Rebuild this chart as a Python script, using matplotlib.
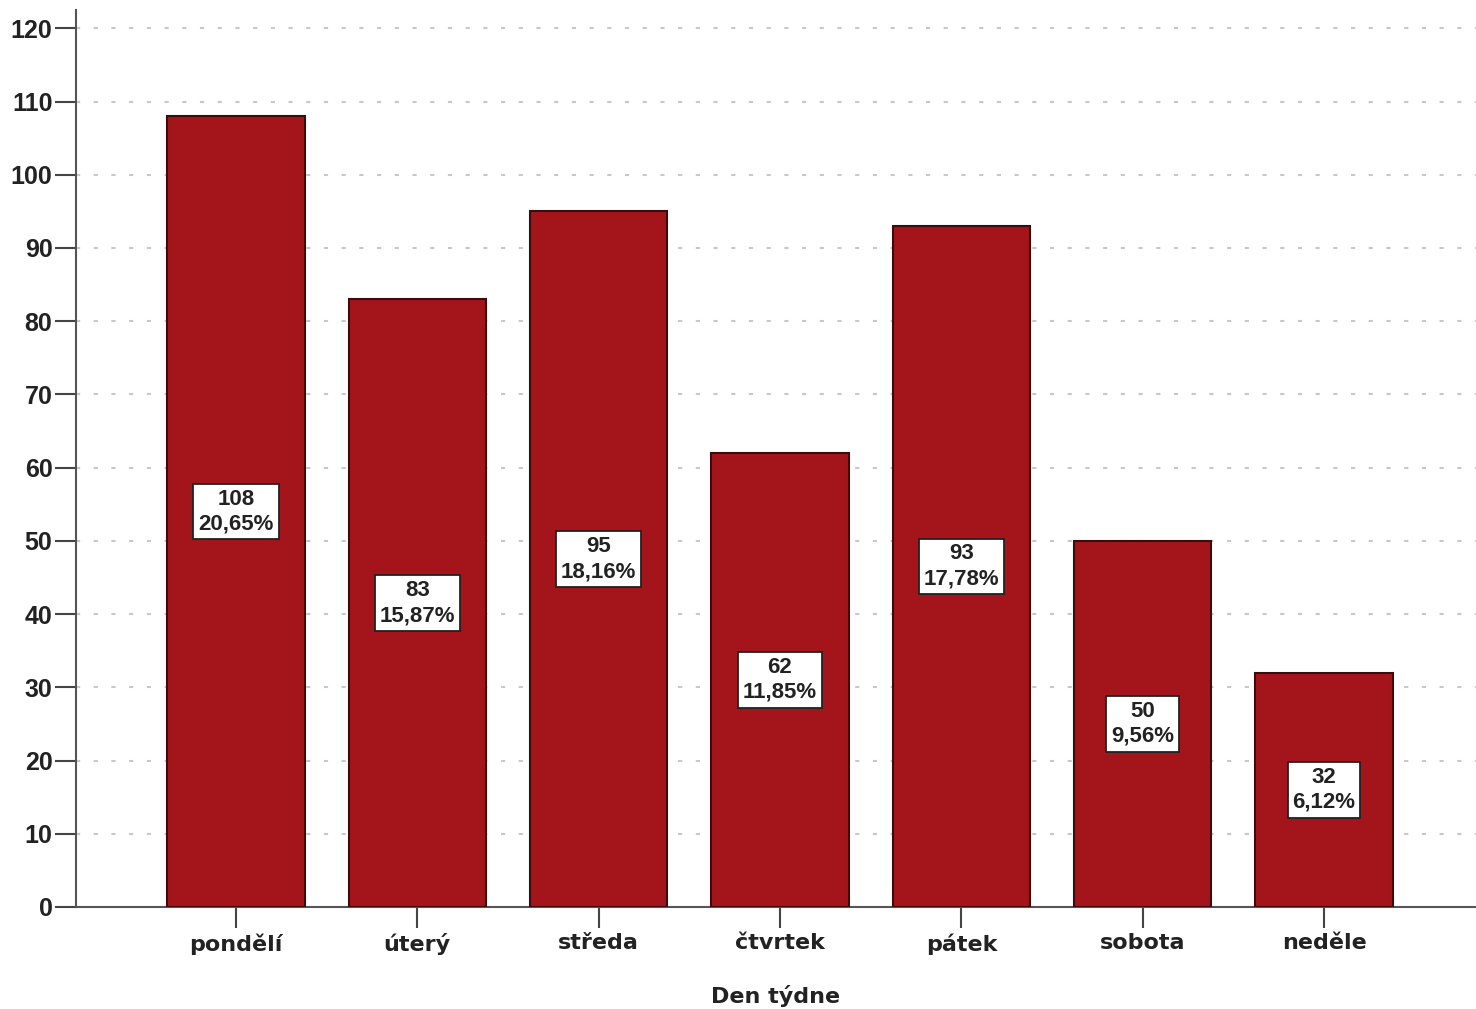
import numpy as np
import matplotlib
matplotlib.use("Agg")
from matplotlib import pyplot as plt

days = ["pondělí", "úterý", "středa", "čtvrtek", "pátek", "sobota", "neděle"]
counts = [108, 83, 95, 62, 93, 50, 32]
percents = ["20,65%", "15,87%", "18,16%", "11,85%", "17,78%", "9,56%", "6,12%"]

bar_color = "#a3151b"
edge_color = "#3a0c0c"

fig = plt.figure(figsize=(14.76, 10.09), dpi=100)
ax = fig.add_axes([0.0515, 0.1011, 0.9485, 0.889])

x = np.arange(len(days))
ax.bar(x, counts, width=0.757, color=bar_color, edgecolor=edge_color,
       linewidth=1.5, zorder=3)

# count + percent box in the middle of every bar
for xi, c, p in zip(x, counts, percents):
    ax.text(xi, c / 2, "%d\n%s" % (c, p), ha="center", va="center",
            fontsize=16, fontweight="bold", family="Liberation Sans",
            color="#222222", linespacing=1.25, zorder=5,
            bbox=dict(boxstyle="square,pad=0.22", facecolor="white",
                      edgecolor="#222222", linewidth=1.3))

ax.set_xlim(-0.882, 6.838)
ax.set_ylim(0, 122.5)
ax.set_yticks(np.arange(0, 121, 10))
ax.set_xticks(x)
ax.set_xticklabels(days, fontsize=16, fontweight="bold", family="DejaVu Sans",
                   color="#222222")
for lab in ax.get_yticklabels():
    lab.set_fontsize(18)
    lab.set_fontweight("bold")
    lab.set_family("Liberation Sans")
    lab.set_color("#222222")

ax.tick_params(axis="y", length=15, width=1.5, color="#444444", pad=2)
ax.tick_params(axis="x", length=15, width=1.5, color="#444444", pad=4)

ax.yaxis.grid(True, linestyle=(0, (2, 6.5)), color="#c8c8c8", linewidth=1.5,
              zorder=0)
ax.set_axisbelow(True)

for side in ["top", "right"]:
    ax.spines[side].set_visible(False)
for side in ["left", "bottom"]:
    ax.spines[side].set_color("#555555")
    ax.spines[side].set_linewidth(1.5)

ax.set_xlabel("Den týdne", fontsize=16, fontweight="bold",
              family="DejaVu Sans", color="#222222", labelpad=21)

fig.savefig("out.png", dpi=100)
